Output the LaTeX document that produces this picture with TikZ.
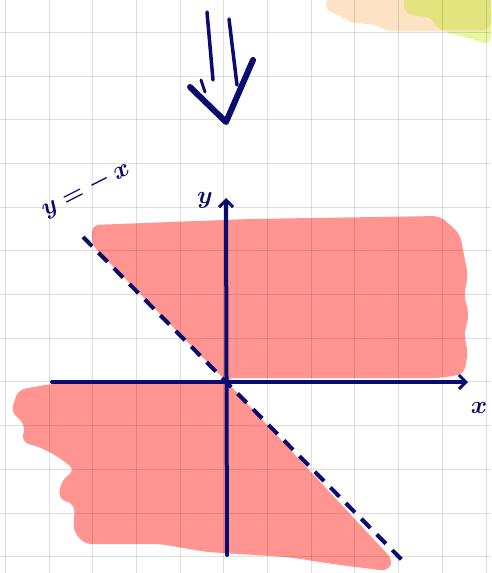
\documentclass[tikz,border=0pt]{standalone}
\usetikzlibrary{arrows.meta}
\definecolor{ink}{RGB}{12,12,110}
\definecolor{pinkfill}{RGB}{255,148,145}
\definecolor{peach}{RGB}{253,227,196}
\definecolor{olive}{RGB}{227,228,126}
\definecolor{lime}{RGB}{228,248,160}
\tikzset{
  gridline/.style={black,opacity=0.12,line width=1pt},
  inkline/.style={ink,line width=4pt,line cap=round,line join=round},
  region/.style={fill=pinkfill,draw=none,rounded corners=7pt},
  lbl/.style={ink,font=\fontsize{30}{30}\selectfont\boldmath}
}
\begin{document}
\begin{tikzpicture}[x=1pt,y=-1pt]
\useasboundingbox (0,0) rectangle (491,573);
\fill[white] (0,0) rectangle (491,573);
% top-right blobs
\fill[lime,rounded corners=10pt] (430,0) -- (491,0) -- (491,46) -- (470,38) -- (440,31) -- (430,20) -- cycle;
\fill[peach,rounded corners=8pt] (326,-5) -- (326,12) -- (343,15) -- (345,22) -- (378,25) -- (385,31) -- (491,31) -- (491,-5) -- cycle;
\fill[olive,rounded corners=8pt] (404,-5) -- (404,14) -- (434,18) -- (436,30) -- (491,30) -- (491,-5) -- cycle;
% pink regions
\coordinate (O) at (227,382);
\fill[region] (O) -- (92,245) -- (92,225) -- (250,219) -- (440,216) -- (460,234)
  -- (464,255) -- (468,275) -- (464,295) -- (469,315) -- (464,335) -- (468,352)
  -- (464,374) -- (440,378) -- (227,378) -- cycle;
\fill[region] (O) -- (50,384) -- (18,390) -- (11,412) -- (25,424) -- (22,442)
  -- (42,448) -- (60,458) -- (75,470) -- (62,480) -- (58,498) -- (75,505)
  -- (73,530) -- (84,544) -- (160,544) -- (207,552) -- (287,557) -- (340,565)
  -- (388,571) -- (393,560) -- cycle;
% grid
\foreach \i in {0,...,11} \draw[gridline] ({5.3+43.7*\i},0) -- ({5.3+43.7*\i},573);
\foreach \j in {0,...,12} \draw[gridline] (0,{32.3+43.7*\j}) -- (491,{32.3+43.7*\j});
% axes
\coordinate (xl) at (52,382);
\coordinate (xr) at (468,382);
\coordinate (yb) at (227,555);
\coordinate (yt) at (226,198);
\draw[inkline,-{Straight Barb[length=7pt,width=14pt,line width=3pt]}] (xl) -- (xr);
\draw[inkline,-{Straight Barb[length=7pt,width=14pt,line width=3pt]}] (yb) -- (yt);
\node[lbl] (xlab) at (479,408) {$x$};
\node[lbl] (ylab) at (205,200) {$y$};
% dashed line y=-x
\coordinate (d1) at (83,237);
\coordinate (d2) at (403,561);
\draw[inkline,line cap=butt,dash pattern=on 13pt off 9pt] (d1) -- (d2);
\node[lbl,rotate=27,inner sep=0pt] (eq) at (86,190) {$y=-\,x$};
% big double arrow
\coordinate (a1) at (207,12);
\coordinate (a2) at (213,80);
\coordinate (b1) at (229,19);
\coordinate (b2) at (237,85);
\coordinate (h1) at (190,87);
\coordinate (h2) at (226,122);
\coordinate (h3) at (253,60);
\draw[inkline,line width=3.5pt] (a1) -- (a2);
\draw[inkline,line width=3.5pt] (b1) -- (b2);
\draw[inkline,line width=6pt] (h1) -- (h2) -- (h3);
\draw[inkline,line width=3pt] (201,80) -- (205,92);
\end{tikzpicture}
\end{document}
